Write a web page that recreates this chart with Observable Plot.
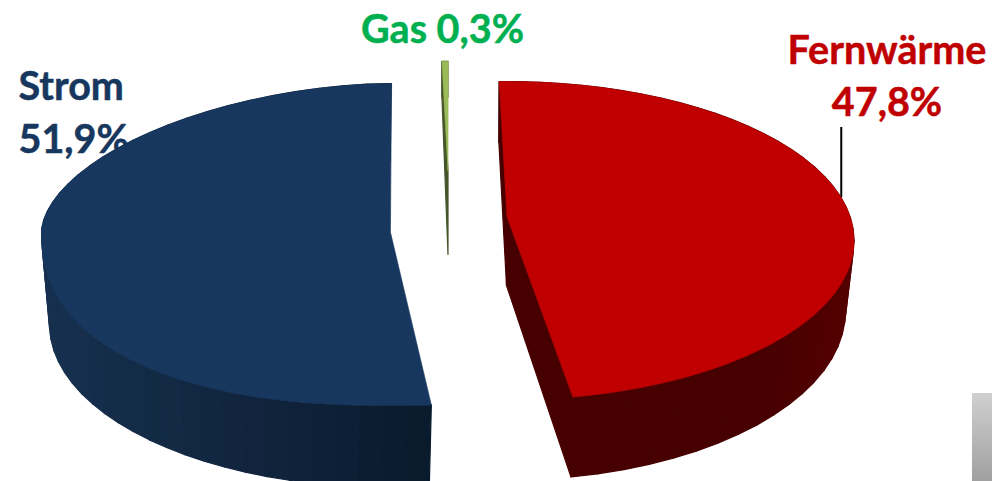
<!DOCTYPE html>
<html><head><meta charset="utf-8">
<script src="https://cdn.jsdelivr.net/npm/d3@7"></script>
<script src="https://cdn.jsdelivr.net/npm/@observablehq/plot@0.6"></script>
<style>html,body{margin:0;padding:0;background:#fff;overflow:hidden}svg{display:block}</style>
</head><body><div id="chart"></div>
<script>
const categories = ["Fernwärme", "Strom", "Gas"];
const shares = [47.8, 51.9, 0.3];

const fmt = v => v.toLocaleString("de-DE", {minimumFractionDigits: 1}) + "%";
const total = d3.sum(shares);
const sweeps = shares.map(v => v / total * 360);

// Exploded 3D placement of each slice: top and bottom rim of the disc.
const disc = {
  "Fernwärme": {rot: -1.5, top: {cx: 506.5, cy: 216, rx: 343, ry: 155.5, k: .152}, low: {cx: 506, cy: 285, rx: 335, ry: 165, k: .152},
    topFill: "#c00000", wall: ["#540000", "#470000"], face: "#470000"},
  "Strom": {rot: 1.2, top: {cx: 390, cy: 232, rx: 349, rUp: 149, rDown: 173, nUp: 1.8, nDown: 2.3},
    low: {cx: 389, cy: 324, rx: 340, rUp: 163, rDown: 163, nUp: 2, nDown: 2},
    topFill: "#17375e", wall: ["#17304f", "#0a1a2d"], face: "#0a1a2d"},
  "Gas": {rot: 0, top: {cx: 447.5, cy: 170, rx: 348, ry: 118, k: .08}, low: {cx: 447.5, cy: 254, rx: 348, ry: 170, k: .08},
    topFill: "#9bbb59", wall: ["#4f6228", "#4f6228"], face: "#46552a"}
};

function project(e, deg) {
  const a = deg * Math.PI / 180, u = Math.sin(a), v = -Math.cos(a);
  if (e.rUp) { // rim with different reach and squareness towards and away from the viewer
    const n = v < 0 ? e.nUp : e.nDown, r = v < 0 ? e.rUp : e.rDown;
    return {x: e.cx + e.rx * u, y: e.cy + Math.sign(v) * r * Math.pow(Math.max(0, 1 - Math.pow(Math.abs(u), n)), 1 / n)};
  }
  const s = 1 / (1 - e.k * v);
  return {x: e.cx + e.rx * u * s, y: e.cy + e.ry * v * s};
}
const range = (a, b, n) => d3.range(n + 1).map(i => a + (b - a) * i / n);

const walls = [], tops = [];
function add(list, id, color, pts) { pts.forEach(p => list.push({id, color, x: p.x, y: p.y})); }

let start = 0;
categories.forEach((name, i) => {
  const d = disc[name];
  const a0 = start + d.rot, a1 = a0 + sweeps[i];
  start += sweeps[i];
  const apexT = {x: d.top.cx, y: d.top.cy}, apexL = {x: d.low.cx, y: d.low.cy};
  // outer wall, banded
  const bands = Math.max(2, Math.round(sweeps[i] / 4));
  const edges = range(a0, a1, bands);
  const shade = d3.interpolateRgb(d.wall[0], d.wall[1]);
  const xs = edges.filter(a => a < 270 || a0 < 90).map(a => project(d.top, a).x);
  const [xMin, xMax] = d3.extent(xs);
  edges.slice(1).forEach((a, j) => {
    const b = edges[j];
    const mid = project(d.top, (a + b) / 2).x;
    const t = xMax > xMin ? (mid - xMin) / (xMax - xMin) : 0;
    add(walls, `${name}-wall-${j}`, shade(name === "Fernwärme" ? Math.min(1, (1 - t) * 4) : t), [
      project(d.top, b), project(d.top, a), project(d.low, a), project(d.low, b)
    ]);
  });
  // cut faces
  if (name !== "Strom") add(walls, `${name}-faceA`, d.face, [project(d.top, a0), apexT, apexL, project(d.low, a0)]);
  if (name === "Fernwärme")
    add(walls, `${name}-faceB`, d.face, [project(d.top, a1), apexT, apexL, project(d.low, a1)]);
  // top
  add(tops, `${name}-top`, d.topFill, [apexT, ...range(a0, a1, Math.max(2, Math.round(sweeps[i]))).map(a => project(d.top, a))]);
});

const leader = project(disc["Fernwärme"].top, 83);
const labels = [
  {text: categories[1], x: 18, y: 87, color: "#17375e", anchor: "start"},
  {text: fmt(shares[1]), x: 18, y: 140, color: "#17375e", anchor: "start"},
  {text: `${categories[2]} ${fmt(shares[2])}`, x: 442, y: 30, color: "#00b050", anchor: "middle"},
  {text: categories[0], x: 886.5, y: 51, color: "#c00000", anchor: "middle"},
  {text: fmt(shares[0]), x: 886.5, y: 103, color: "#c00000", anchor: "middle"}
];
const textMark = anchor => Plot.text(labels.filter(d => d.anchor === anchor), {
  x: "x", y: "y", text: "text", fill: "color", stroke: "color", strokeWidth: .5, textAnchor: anchor, lineAnchor: "middle",
  fontFamily: "Lato", fontWeight: 700, fontSize: 39.5
});

const chart = Plot.plot({
  width: 992, height: 481, margin: 0,
  x: {domain: [0, 992], range: [0, 992], axis: null},
  y: {domain: [0, 481], range: [0, 481], axis: null},
  color: {type: "identity"},
  marks: [
    () => {
      const s = d3.create("svg:defs");
      const g = s.append("linearGradient").attr("id", "greyFade").attr("x1", 0).attr("x2", 0).attr("y1", 0).attr("y2", 1);
      g.append("stop").attr("offset", 0).attr("stop-color", "#d0d0d0");
      g.append("stop").attr("offset", 1).attr("stop-color", "#a0a0a0");
      return s.node();
    },
    Plot.rect([{}], {x1: () => 972, x2: () => 992, y1: () => 393, y2: () => 481, fill: "url(#greyFade)"}),
    textMark("start"), textMark("middle"),
    Plot.ruleX([leader.x], {y1: 127, y2: leader.y, stroke: "#000", strokeWidth: 2}),
    Plot.line(walls, {x: "x", y: "y", z: "id", fill: "color", stroke: "color", strokeWidth: 1.2, curve: "linear-closed"}),
    Plot.line(tops, {x: "x", y: "y", z: "id", fill: "color", stroke: "color", strokeWidth: .6, curve: "linear-closed"})
  ]
});
document.getElementById("chart").append(chart);
</script></body></html>
